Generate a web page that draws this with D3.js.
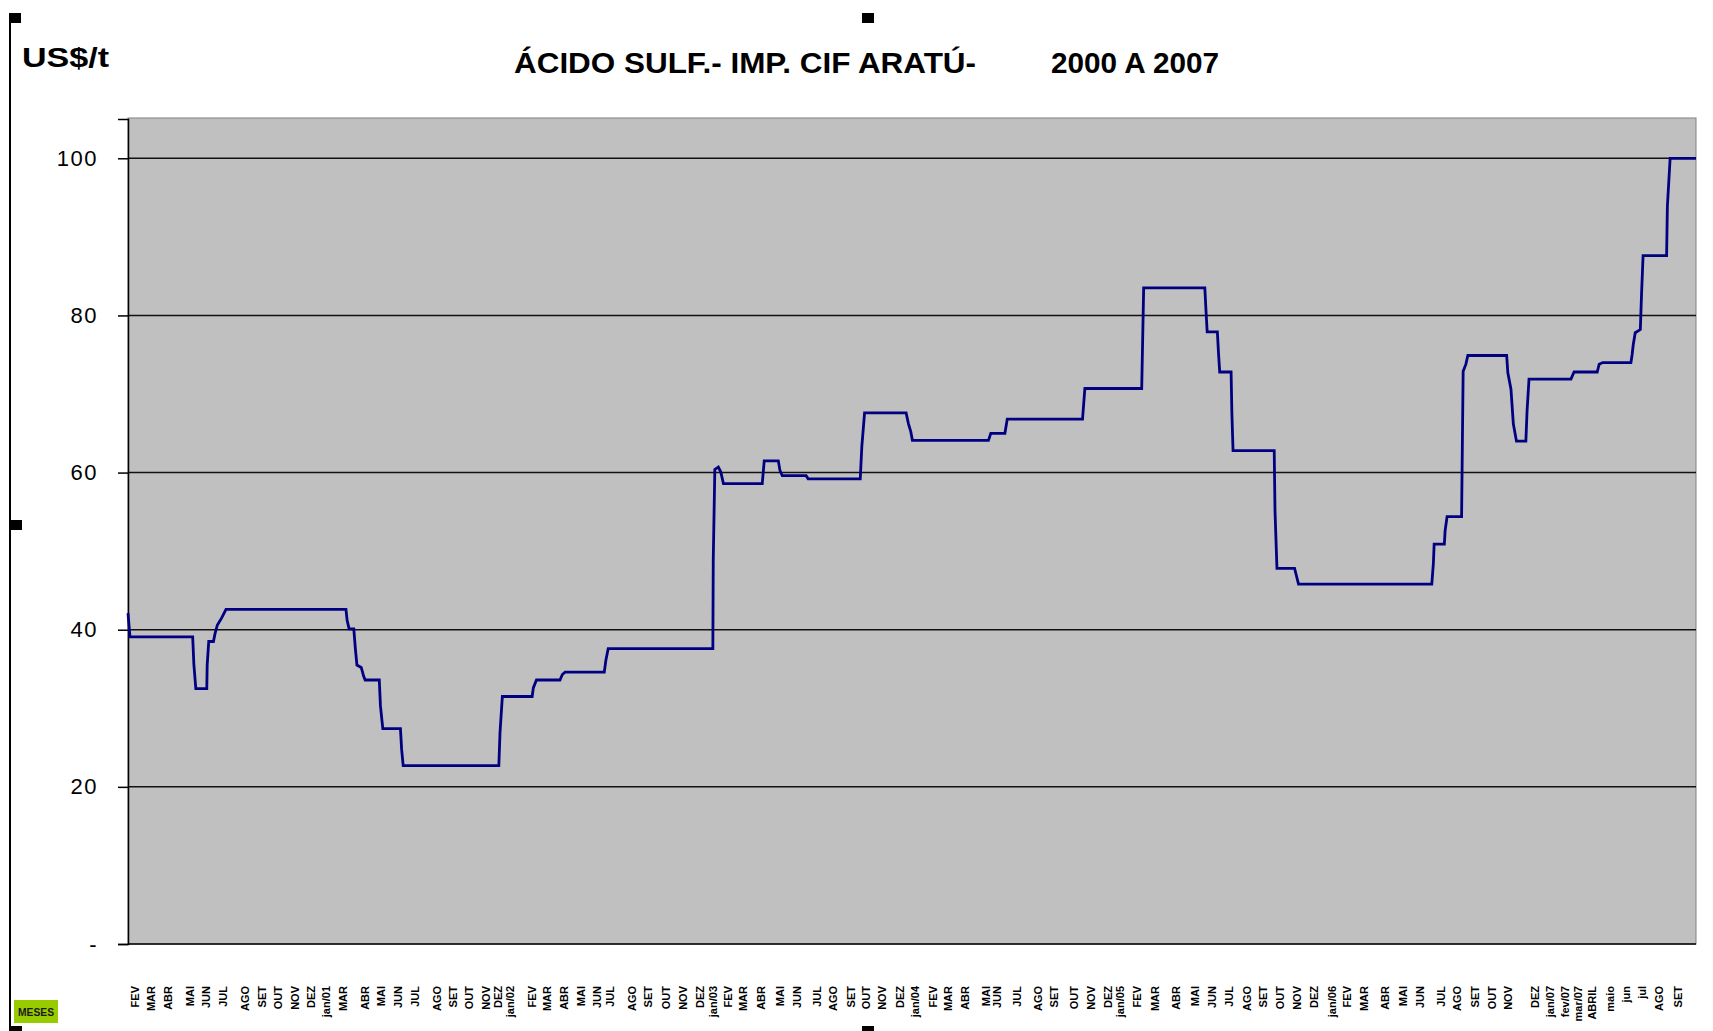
<!DOCTYPE html>
<html>
<head>
<meta charset="utf-8">
<script src="https://cdn.jsdelivr.net/npm/d3@7"></script>
<style>
  body { margin: 0; background: #fff; }
  svg { display: block; }
</style>
</head>
<body>
<div id="chart"></div>
<script>
// price series, x in weeks from the start of the chart (Feb/2000)
const weeks = [0, 0.5, 16.5, 16.8, 17.3, 20.1, 20.2, 20.6, 21.8, 22.2, 22.8, 23.9, 25.0,
    55.6, 55.9, 56.4, 57.6, 58.0, 58.4, 59.5, 60.1, 60.5, 64.1, 64.4, 65.0, 69.5, 69.8, 70.2,
    94.6, 94.9, 95.5, 103.1, 103.4, 104.2, 110.2, 110.8, 111.5, 121.5, 121.9, 122.5,
    149.2, 149.3, 149.7, 150.6, 151.2, 151.9, 161.8, 162.3, 165.9, 166.3, 166.9, 173.0, 173.5,
    186.8, 187.2, 187.9, 198.5, 199.1, 199.7, 200.1, 219.5, 220.1, 223.7, 224.3, 243.5, 244.1,
    258.6, 259.1, 274.7, 275.0, 275.3, 277.9, 278.2, 278.5, 281.4, 281.6, 281.9, 292.4, 292.6,
    293.1, 297.6, 298.1, 298.6, 332.6, 333.0, 333.2, 335.8, 336.0, 336.5, 340.2, 340.4, 340.6,
    341.3, 341.8, 351.7, 352.0, 352.8, 353.4, 354.2, 356.6, 356.9, 357.4, 368.1, 368.9, 374.8,
    375.3, 376.2, 383.4, 383.7, 384.0, 384.5, 385.8, 386.1, 386.5, 392.5, 392.7, 393.4, 400];

const prices = [42.1, 39.1, 39.1, 35.6, 32.5, 32.5, 35.5, 38.5, 38.5, 39.5, 40.6, 41.5, 42.6,
    42.6, 41.2, 40.1, 40.1, 37.6, 35.5, 35.2, 34.1, 33.6, 33.6, 30.3, 27.4, 27.4, 24.8, 22.7,
    22.7, 26.9, 31.5, 31.5, 32.6, 33.6, 33.6, 34.3, 34.6, 34.6, 36.1, 37.6,
    37.6, 48.9, 60.4, 60.7, 60.1, 58.6, 58.6, 61.5, 61.5, 60.3, 59.6, 59.6, 59.2,
    59.2, 63.3, 67.6, 67.6, 66.2, 65.2, 64.1, 64.1, 65.0, 65.0, 66.8, 66.8, 70.7,
    70.7, 83.5, 83.5, 80.6, 77.9, 77.9, 75.1, 72.8, 72.8, 67.6, 62.8, 62.8, 55.2,
    47.8, 47.8, 46.8, 45.8, 45.8, 48.4, 50.9, 50.9, 52.6, 54.4, 54.4, 63.6, 72.9,
    73.8, 74.9, 74.9, 72.7, 70.6, 66.2, 64.0, 64.0, 67.8, 71.9, 71.9, 72.8, 72.8,
    73.8, 74.0, 74.0, 75.0, 76.3, 77.8, 78.2, 82.6, 87.6, 87.6, 93.9, 100, 100];

const monthLabels = ['FEV', 'MAR', 'ABR', 'MAI', 'JUN', 'JUL', 'AGO', 'SET', 'OUT', 'NOV', 'DEZ',
    'jan/01', 'MAR', 'ABR', 'MAI', 'JUN', 'JUL', 'AGO', 'SET', 'OUT', 'NOV', 'DEZ',
    'jan/02', 'FEV', 'MAR', 'ABR', 'MAI', 'JUN', 'JUL', 'AGO', 'SET', 'OUT', 'NOV', 'DEZ',
    'jan/03', 'FEV', 'MAR', 'ABR', 'MAI', 'JUN', 'JUL', 'AGO', 'SET', 'OUT', 'NOV', 'DEZ',
    'jan/04', 'FEV', 'MAR', 'ABR', 'MAI', 'JUN', 'JUL', 'AGO', 'SET', 'OUT', 'NOV', 'DEZ',
    'jan/05', 'FEV', 'MAR', 'ABR', 'MAI', 'JUN', 'JUL', 'AGO', 'SET', 'OUT', 'NOV', 'DEZ',
    'jan/06', 'FEV', 'MAR', 'ABR', 'MAI', 'JUN', 'JUL', 'AGO', 'SET', 'OUT', 'NOV', 'DEZ',
    'jan/07', 'fev/07', 'mar/07', 'ABRIL', 'maio', 'jun', 'jul', 'AGO', 'SET'];

const monthWeeks = [1.8, 5.9, 10.3, 15.8, 19.9, 24.3, 29.8, 34.1, 38.3, 42.6, 46.6,
    50.5, 54.8, 60.5, 64.7, 69.0, 73.2, 78.8, 83.0, 87.1, 91.3, 94.5,
    97.4, 103.0, 106.8, 111.3, 115.6, 119.6, 123.0, 128.5, 132.7, 137.4, 141.7, 145.9,
    149.3, 153.1, 157.0, 161.5, 166.3, 170.8, 175.7, 179.9, 184.4, 188.4, 192.3, 196.9,
    200.8, 205.3, 209.3, 213.5, 218.9, 221.8, 226.7, 232.2, 236.2, 241.3, 245.8, 250.1,
    253.2, 257.5, 262.0, 267.5, 272.2, 276.5, 280.9, 285.4, 289.5, 293.9, 298.3, 302.6,
    307.1, 310.9, 315.4, 320.7, 325.3, 329.6, 335.0, 339.0, 343.7, 348.0, 352.1, 359.0,
    362.8, 366.6, 370.0, 373.4, 378.1, 382.3, 386.3, 390.5, 395.5];

const yTicks = [0, 20, 40, 60, 80, 100];

const width = 1713, height = 1031;
const plot = { left: 128, right: 1696, top: 118, bottom: 944 };

const svg = d3.select('#chart').append('svg')
    .attr('width', width)
    .attr('height', height)
    .style('background', '#fff');

const x = d3.scaleLinear().domain([0, 400]).range([plot.left, plot.right]);
const y = d3.scaleLinear().domain([0, 105]).range([plot.bottom, 119]);

// plot area
svg.append('rect')
    .attr('x', plot.left).attr('y', plot.top)
    .attr('width', plot.right - plot.left).attr('height', plot.bottom - plot.top)
    .attr('fill', '#C0C0C0')
    .attr('stroke', '#808080')
    .attr('stroke-width', 1);

// gridlines
svg.append('g')
    .selectAll('line')
    .data(yTicks.filter(d => d > 0))
    .enter().append('line')
    .attr('x1', plot.left).attr('x2', plot.right)
    .attr('y1', d => y(d)).attr('y2', d => y(d))
    .attr('stroke', '#111')
    .attr('stroke-width', 1.5);

// y axis
const yAxis = svg.append('g')
    .attr('transform', `translate(${plot.left},0)`)
    .call(d3.axisLeft(y).tickValues(yTicks).tickSize(10).tickPadding(20)
        .tickFormat(d => d === 0 ? '-' : d));
yAxis.select('.domain').attr('stroke', '#000').attr('stroke-width', 1.5);
yAxis.selectAll('.tick line').attr('stroke', '#000').attr('stroke-width', 1.5);
yAxis.selectAll('.tick text')
    .attr('font-family', 'Liberation Sans, Arial, sans-serif')
    .attr('font-size', 22)
    .attr('letter-spacing', 1.5)
    .attr('fill', '#000');

// x axis line
svg.append('line')
    .attr('x1', plot.left).attr('x2', plot.right)
    .attr('y1', plot.bottom).attr('y2', plot.bottom)
    .attr('stroke', '#000')
    .attr('stroke-width', 1.5);

// month labels
svg.append('g')
    .selectAll('text')
    .data(monthLabels)
    .enter().append('text')
    .attr('transform', (d, i) => `translate(${x(monthWeeks[i])},986) rotate(-90)`)
    .attr('text-anchor', 'end')
    .attr('dy', '0.35em')
    .attr('font-family', 'Liberation Sans, Arial, sans-serif')
    .attr('font-size', 11)
    .attr('font-weight', 'bold')
    .attr('fill', '#000')
    .text(d => d);

// price line
const line = d3.line()
    .x((d, i) => x(weeks[i]))
    .y(d => y(d));

svg.append('path')
    .datum(prices)
    .attr('d', line)
    .attr('fill', 'none')
    .attr('stroke', '#000080')
    .attr('stroke-width', 2.8)
    .attr('stroke-linejoin', 'miter');

// titles
svg.append('text')
    .attr('x', 22).attr('y', 67)
    .attr('font-family', 'Liberation Sans, Arial, sans-serif')
    .attr('font-size', 27)
    .attr('font-weight', 'bold')
    .attr('textLength', 87)
    .attr('lengthAdjust', 'spacingAndGlyphs')
    .text('US$/t');

svg.append('text')
    .attr('x', 514).attr('y', 73)
    .attr('font-family', 'Liberation Sans, Arial, sans-serif')
    .attr('font-size', 29)
    .attr('font-weight', 'bold')
    .attr('textLength', 462)
    .attr('lengthAdjust', 'spacingAndGlyphs')
    .text('ÁCIDO SULF.- IMP. CIF ARATÚ-');

svg.append('text')
    .attr('x', 1051).attr('y', 73)
    .attr('font-family', 'Liberation Sans, Arial, sans-serif')
    .attr('font-size', 29)
    .attr('font-weight', 'bold')
    .attr('textLength', 168)
    .attr('lengthAdjust', 'spacingAndGlyphs')
    .text('2000 A 2007');

// "MESES" tag
svg.append('rect')
    .attr('x', 14).attr('y', 1000).attr('width', 44).attr('height', 23)
    .attr('fill', '#99CC00');
svg.append('text')
    .attr('x', 36).attr('y', 1015.5)
    .attr('text-anchor', 'middle')
    .attr('font-family', 'Liberation Sans, Arial, sans-serif')
    .attr('font-size', 10)
    .attr('font-weight', 'bold')
    .attr('textLength', 36)
    .attr('lengthAdjust', 'spacingAndGlyphs')
    .attr('fill', '#1a1a1a')
    .text('MESES');

// frame edge and selection handles
svg.append('line')
    .attr('x1', 10).attr('x2', 10).attr('y1', 14).attr('y2', 1031)
    .attr('stroke', '#000').attr('stroke-width', 2);

const handles = [[9, 13], [862, 13], [10, 520], [10, 1026], [862, 1026]];
svg.append('g')
    .selectAll('rect')
    .data(handles)
    .enter().append('rect')
    .attr('x', d => d[0]).attr('y', d => d[1])
    .attr('width', 12).attr('height', 10)
    .attr('fill', '#000');
</script>
</body>
</html>
